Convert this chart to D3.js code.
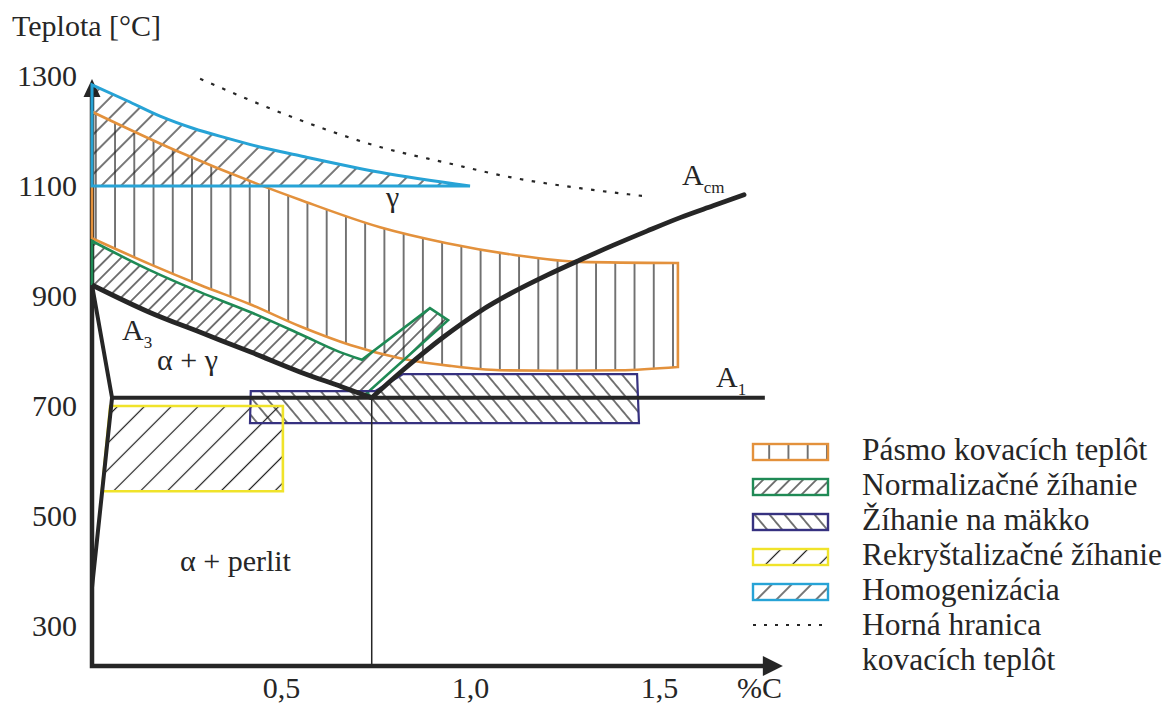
<!DOCTYPE html>
<html>
<head>
<meta charset="utf-8">
<script src="https://cdn.jsdelivr.net/npm/d3@7"></script>
<style>
  html, body { margin: 0; padding: 0; background: #ffffff; }
  svg { display: block; }
  svg text { fill: #262626; }
</style>
</head>
<body>
<svg id="chart" width="1170" height="703"></svg>
<script>
// ---- axis ticks ----
const tempTicks = [300, 500, 700, 900, 1100, 1300];
const carbonTicks = [0.5, 1.0, 1.5];

// ---- phase boundaries, points as [%C, °C] ----
const a3Line = [[0, 920], [0.15, 871], [0.29, 833], [0.42, 798], [0.55, 762], [0.66, 735], [0.74, 715]];
const acmLine = [[0.74, 715], [0.823, 765.5], [0.929, 825], [1.026, 872], [1.114, 907], [1.204, 938], [1.291, 965.5],
                 [1.378, 992], [1.468, 1018], [1.556, 1042.5], [1.643, 1064], [1.725, 1084]];
const a1Line = [[0.053, 715], [1.78, 715]];
const ferriteSolvus = [[0, 920], [0.053, 715], [0, 370]];
const eutectoidC = 0.74;

// ---- forging range ----
const forgeTop = [[0, 1235], [0.22, 1165], [0.444, 1102], [0.55, 1075], [0.762, 1025], [0.939, 996],
                  [1.114, 975], [1.291, 962], [1.55, 960]];
const forgeBottom = [[0, 1005], [0.153, 958], [0.286, 920], [0.418, 885], [0.55, 845], [0.683, 811],
                     [0.815, 787], [0.947, 773], [1.079, 765], [1.238, 764], [1.397, 765], [1.55, 771]];
// upper forging limit (dotted)
const forgeLimit = [[0.286, 1295], [0.55, 1220], [0.762, 1171], [0.939, 1142], [1.114, 1115], [1.291, 1096], [1.455, 1082]];

// ---- normalizing anneal: upper edge, then the strip along Acm ----
const normTop = [[0, 1000], [0.153, 947], [0.286, 907], [0.418, 871], [0.55, 831], [0.656, 798], [0.714, 784]];
const normBranch = [[0.894, 878], [0.942, 856], [0.728, 724]];

// ---- soft annealing ----
const softAnneal = [[0.42, 727], [0.749, 727], [0.823, 758], [1.442, 758], [1.447, 669], [0.418, 669]];

// ---- recrystallization anneal ----
const recryst = [[0.048, 700], [0.505, 700], [0.505, 545], [0.026, 545]];

// ---- homogenization ----
const homogTop = [[0, 1284], [0.093, 1255], [0.18, 1227], [0.267, 1205], [0.357, 1187], [0.444, 1171],
                  [0.55, 1155], [0.762, 1125], [1.0, 1100]];
const homogBase = 1100;

// ---- legend ----
const legendNames = ["Pásmo kovacích teplôt", "Normalizačné žíhanie", "Žíhanie na mäkko",
                     "Rekryštalizačné žíhanie", "Homogenizácia", "Horná hranica", "kovacích teplôt"];
const legendColors = ["#E3913C", "#1F8A55", "#363180", "#F0E32A", "#27A3D6"];
const legendFills = ["hVert", "hGreen", "hNavy", "hYellow", "hBlue"];

const ORANGE = legendColors[0], GREEN = legendColors[1], NAVY = legendColors[2],
      YELLOW = legendColors[3], BLUE = legendColors[4], INK = "#262626";

// use the first serif face that is actually present, otherwise a plain sans
function pickSerif(cands) {
  const ctx = document.createElement("canvas").getContext("2d");
  const probe = "mmmmmmmmmlliiWWQQ 1300 Teplota";
  ctx.font = "40px monospace";
  const wm = ctx.measureText(probe).width;
  ctx.font = "40px sans-serif";
  const ws = ctx.measureText(probe).width;
  for (const f of cands) {
    ctx.font = `40px "${f}", monospace`;
    const a = ctx.measureText(probe).width;
    ctx.font = `40px "${f}", sans-serif`;
    const b = ctx.measureText(probe).width;
    if (a !== wm && b !== ws) return f;
  }
  return null;
}
const serifFace = pickSerif(["Liberation Serif", "Times New Roman", "DejaVu Serif", "Noto Serif", "Tinos",
  "Nimbus Roman", "Nimbus Roman No9 L", "FreeSerif", "Times", "Georgia", "Noto Serif CJK SC", "Source Han Serif SC"]);
const SERIF = serifFace ? `"${serifFace}", serif` : '"Liberation Sans", Arial, sans-serif';

const svg = d3.select("#chart");
const defs = svg.append("defs");

const x = d3.scaleLinear().domain([0, 1.825]).range([92, 92 + 378 * 1.825]);
const y = d3.scaleLinear().domain([227.3, 1300]).range([666, 76]);

const curve = d3.line().x(d => x(d[0])).y(d => y(d[1])).curve(d3.curveMonotoneX);
const poly = d3.line().x(d => x(d[0])).y(d => y(d[1]));
const join = (...parts) => parts.map((p, i) => i ? p.replace(/^M/, "L") : p).join("") + "Z";

// hatch patterns: parallel lines, rotated
function hatch(id, spacing, angle, offset) {
  const p = defs.append("pattern")
    .attr("id", id)
    .attr("patternUnits", "userSpaceOnUse")
    .attr("width", spacing).attr("height", spacing)
    .attr("patternTransform", `translate(${offset || 0},0) rotate(${angle})`);
  p.append("line")
    .attr("x1", spacing / 2).attr("x2", spacing / 2)
    .attr("y1", -1).attr("y2", spacing + 1)
    .attr("stroke", "#1b1b1b").attr("stroke-width", 1.2);
}
hatch("hVert", 19.24, 0, 95.8 - 9.62);
hatch("hGreen", 9.4, 45, 0);
hatch("hNavy", 11.5, -40, 0);
hatch("hYellow", 19, 45, 0);
hatch("hBlue", 14, 45, 0);

// ---- axes ----
const axisG = svg.append("g");
axisG.append("path")
  .attr("d", `M${x(0)},${y(1300) + 20}V${y(227.3)}H${x(1.78)}`)
  .attr("fill", "none").attr("stroke", INK).attr("stroke-width", 4.5);
axisG.append("path")
  .attr("d", `M${x(0)},${y(1300) + 3}L${x(0) - 8.5},${y(1300) + 21}L${x(0) + 8.5},${y(1300) + 21}Z`)
  .attr("fill", INK);
axisG.append("path")
  .attr("d", `M${x(1.825) + 1},${y(227.3)}L${x(1.825) - 19},${y(227.3) - 10}L${x(1.825) - 19},${y(227.3) + 10}Z`)
  .attr("fill", INK);

const yAxis = svg.append("g")
  .attr("transform", `translate(${x(0)},0)`)
  .call(d3.axisLeft(y).tickValues(tempTicks).tickSize(0).tickPadding(15).tickFormat(d3.format("d")));
yAxis.select(".domain").remove();
yAxis.attr("font-family", SERIF).attr("font-size", 30);
yAxis.selectAll("text").attr("fill", INK);

const xAxis = svg.append("g")
  .attr("transform", `translate(0,${y(227.3)})`)
  .call(d3.axisBottom(x).tickValues(carbonTicks).tickSize(0).tickPadding(11)
        .tickFormat(d => d3.format(".1f")(d).replace(".", ",")));
xAxis.select(".domain").remove();
xAxis.attr("font-family", SERIF).attr("font-size", 30);
xAxis.selectAll("text").attr("fill", INK);

const label = (px, py, str, size) =>
  svg.append("text").attr("x", px).attr("y", py).attr("font-family", SERIF)
     .attr("font-size", size || 30).text(str);

label(737, 698, "%C");
label(12, 36, "Teplota [°C]");

// ---- heat treatment regions ----
const forgePath = join(curve(forgeTop), curve(forgeBottom.slice().reverse()));
const normPath = join(curve(normTop), poly(normBranch), curve(a3Line.slice().reverse()));
const homogPath = join(curve(homogTop), poly([[1.0, homogBase], [0, homogBase]]));
const softPath = poly(softAnneal) + "Z";
const recrystPath = poly(recryst) + "Z";

const regions = [
  { d: forgePath, fill: "hVert", stroke: ORANGE, w: 2.6 },
  { d: normPath, fill: "hGreen", stroke: GREEN, w: 2.6 },
  { d: softPath, fill: "hNavy", stroke: NAVY, w: 2.2 },
  { d: recrystPath, fill: "hYellow", stroke: YELLOW, w: 2.6 },
  { d: homogPath, fill: "hBlue", stroke: BLUE, w: 3 }
];
const regG = svg.append("g");
regG.selectAll("path.fill").data(regions).join("path")
  .attr("class", "fill").attr("d", d => d.d).attr("fill", d => `url(#${d.fill})`).attr("stroke", "none");
regG.selectAll("path.edge").data(regions).join("path")
  .attr("class", "edge").attr("d", d => d.d).attr("fill", "none")
  .attr("stroke", d => d.stroke).attr("stroke-width", d => d.w).attr("stroke-linejoin", "miter");

// upper forging limit
svg.append("path").attr("d", curve(forgeLimit)).attr("fill", "none")
  .attr("stroke", INK).attr("stroke-width", 2.2).attr("stroke-dasharray", "3.5 8.5");

// ---- phase diagram lines ----
const phaseG = svg.append("g").attr("fill", "none").attr("stroke", INK).attr("stroke-linejoin", "round");
phaseG.append("path").attr("d", poly([[eutectoidC, 715], [eutectoidC, 227.3]])).attr("stroke-width", 1.5);
phaseG.append("path").attr("d", poly(a1Line)).attr("stroke-width", 4);
phaseG.append("path").attr("d", poly(ferriteSolvus)).attr("stroke-width", 4);
phaseG.append("path").attr("d", curve(a3Line)).attr("stroke-width", 4.8);
phaseG.append("path").attr("d", curve(acmLine)).attr("stroke-width", 4.8).attr("stroke-linecap", "round");

// ---- phase labels ----
function subLabel(px, py, main, sub) {
  const t = svg.append("text").attr("x", px).attr("y", py).attr("font-family", SERIF).attr("font-size", 30);
  t.append("tspan").text(main);
  t.append("tspan").attr("font-size", 17).attr("dy", 8).text(sub);
}
subLabel(122, 340, "A", "3");
subLabel(682, 185, "A", "cm");
subLabel(716, 387, "A", "1");
label(157, 370, "α + γ");
label(386, 207, "γ");
label(180, 571, "α + perlit");

// ---- legend ----
const legG = svg.append("g");
const rowY = i => 460 + i * 35;
legendFills.forEach((f, i) => {
  legG.append("rect").attr("x", 753).attr("y", rowY(i) - 16).attr("width", 75).attr("height", 16)
    .attr("fill", `url(#${f})`).attr("stroke", legendColors[i]).attr("stroke-width", 2.4);
});
legG.append("line").attr("x1", 753).attr("x2", 828).attr("y1", rowY(5) - 10).attr("y2", rowY(5) - 10)
  .attr("stroke", INK).attr("stroke-width", 2).attr("stroke-dasharray", "3 8");
legendNames.forEach((n, i) => {
  legG.append("text").attr("x", 862).attr("y", rowY(i)).attr("font-family", SERIF)
    .attr("font-size", 31.5).text(n);
});
</script>
</body>
</html>
